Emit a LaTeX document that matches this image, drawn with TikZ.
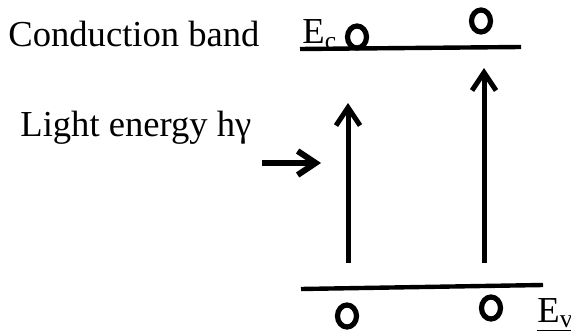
\documentclass[tikz,border=0pt]{standalone}
\usepackage{fontspec}
\setmainfont{Liberation Serif}
\usepackage{tikz}
\usetikzlibrary{arrows.meta, positioning, shapes.geometric}

\begin{document}
\begin{tikzpicture}[
  x=0.5pt, y=-0.5pt,
  band/.style={line width=2.2pt},
  carrier/.style={ellipse, draw, line width=2.6pt, inner sep=0pt,
                  minimum width=9.5pt, minimum height=11pt},
  excite/.style={-{Straight Barb[length=9pt, width=12pt]}, line width=2.5pt},
  label_style/.style={anchor=base west, inner sep=0pt,
                      font=\fontsize{18.3}{22}\selectfont}
]
\useasboundingbox (0,0) rectangle (571,336);

% Band edges
\coordinate (ecL) at (300,49);
\coordinate (ecR) at (521,47);
\coordinate (evL) at (301,289);
\coordinate (evR) at (543,285);
\draw[band] (ecL) -- (ecR);
\draw[band] (evL) -- (evR);

% Labels
\node[label_style] (cb) at (8,47) {Conduction band};
\node[label_style] (ec) at (302,44) {E\textsubscript{c}};
\node[label_style] (light) at (20,137) {Light energy hγ};
\node[label_style] (ev) at (537,322) {\underline{E\textsubscript{v}}};

% Carriers
\node[carrier] (e1) at (357,37) {};
\node[carrier] (e2) at (481,21) {};
\node[carrier] (h1) at (347,316) {};
\node[carrier] (h2) at (491,308) {};

% Transitions
\coordinate (a1s) at (348,263);
\coordinate (a1e) at (348,103);
\coordinate (a2s) at (484,263);
\coordinate (a2e) at (484,68);
\draw[excite] (a1s) -- (a1e);
\draw[excite] (a2s) -- (a2e);

% Incoming light
\coordinate (ls) at (262,163);
\coordinate (le) at (321,163);
\draw[excite, line width=3pt] (ls) -- (le);

\end{tikzpicture}
\end{document}
